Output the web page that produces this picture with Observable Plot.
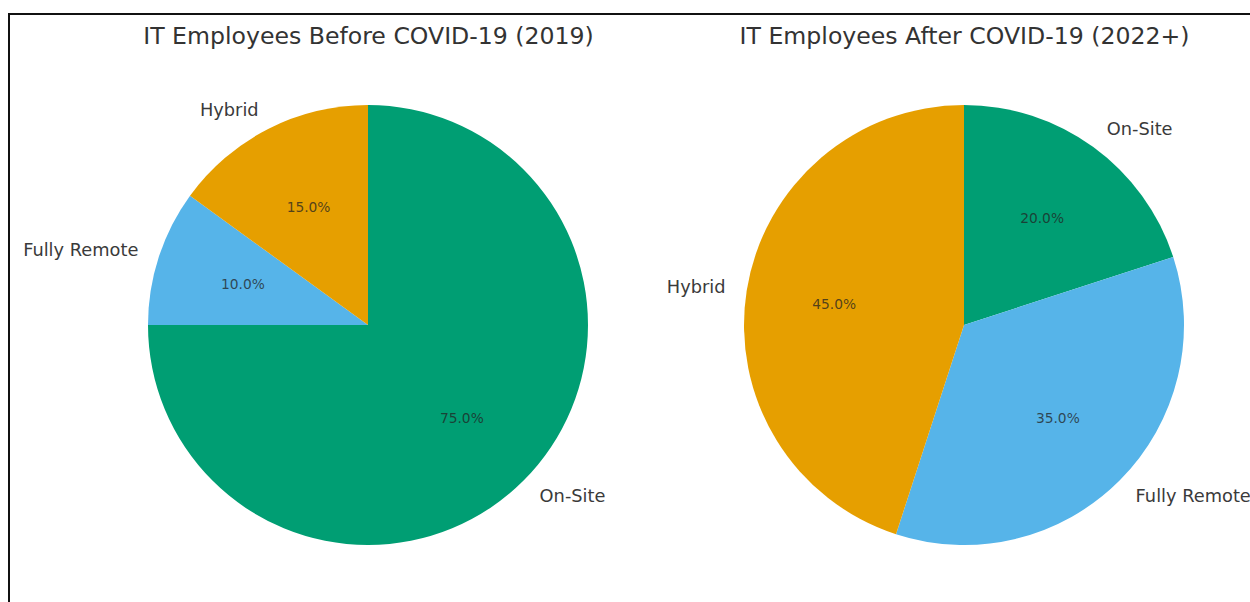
<!DOCTYPE html>
<html>
<head>
<meta charset="utf-8">
<script src="https://cdn.jsdelivr.net/npm/d3@7"></script>
<script src="https://cdn.jsdelivr.net/npm/@observablehq/plot@0.6"></script>
<style>
  html, body { margin: 0; padding: 0; background: #fff; overflow: hidden; }
  #wrap { position: relative; width: 1250px; height: 602px; overflow: hidden; }
  #frame { position: absolute; left: 8px; top: 13px; width: 1400px; height: 800px;
           border: 2px solid #111; pointer-events: none; box-sizing: border-box; }
</style>
</head>
<body>
<div id="wrap"><div id="frame"></div></div>
<script>
// ---- data ----
const categories = ["On-Site", "Fully Remote", "Hybrid"];
const before2019 = [75, 10, 15];
const after2022 = [20, 35, 45];
const titles = ["IT Employees Before COVID-19 (2019)", "IT Employees After COVID-19 (2022+)"];
const palette = ["#009E73", "#56B4E9", "#E69F00"];

// ---- layout (pixels) ----
const W = 1250, H = 602, R = 220;
const CXpx = [368, 964], CYpx = 325, TITLEpx = 36;

// pie centres in radius units
const centres = CXpx.map(c => (c - CXpx[0]) / R);
const color = d3.scaleOrdinal(categories, palette);

const series = [before2019, after2022];
const slices = [];
series.forEach((vals, k) => {
  const rows = categories.map((cat, i) => ({cat, value: vals[i]}));
  const arcs = d3.pie().sort(null).value(d => d.value)(rows);
  const total = d3.sum(vals);
  arcs.forEach(a => {
    const mid = (a.startAngle + a.endAngle) / 2;
    slices.push({
      pie: k, cx: centres[k], cat: a.data.cat, value: a.data.value,
      pct: d3.format(".1f")(a.data.value / total * 100) + "%",
      start: a.startAngle, end: a.endAngle, mid
    });
  });
});
const titleRows = titles.map((t, k) => ({t, cx: centres[k]}));

function pieMark(index, scales) {
  const g = d3.create("svg:g");
  const r = scales.x(1) - scales.x(0);
  const arc = d3.arc().innerRadius(0).outerRadius(r);
  for (const s of slices) {
    g.append("path")
      .attr("d", arc({startAngle: s.start, endAngle: s.end}))
      .attr("transform", `translate(${scales.x(s.cx)},${scales.y(0)})`)
      .attr("fill", color(s.cat));
  }
  return g.node();
}

const chart = Plot.plot({
  width: W, height: H,
  margin: 0,
  x: {domain: [(0 - CXpx[0]) / R, (W - CXpx[0]) / R], axis: null},
  y: {domain: [(CYpx - H) / R, CYpx / R], axis: null},
  style: {fontFamily: "'DejaVu Sans', sans-serif", background: "transparent"},
  marks: [
    pieMark,
    Plot.text(slices, {
      filter: d => Math.sin(d.mid) > 0,
      x: d => d.cx + 1.1 * Math.sin(d.mid), y: d => 1.1 * Math.cos(d.mid),
      text: "cat", textAnchor: "start", fontSize: 17.8, fill: "#3a3a3a"
    }),
    Plot.text(slices, {
      filter: d => Math.sin(d.mid) <= 0,
      x: d => d.cx + 1.1 * Math.sin(d.mid), y: d => 1.1 * Math.cos(d.mid),
      text: "cat", textAnchor: "end", fontSize: 17.8, fill: "#3a3a3a"
    }),
    Plot.text(slices, {
      x: d => d.cx + 0.6 * Math.sin(d.mid), y: d => 0.6 * Math.cos(d.mid),
      text: "pct", fontSize: 13.8, fill: "#222", fillOpacity: 0.75
    }),
    Plot.text(titleRows, {
      x: "cx", y: () => (CYpx - TITLEpx) / R,
      text: "t", fontSize: 23.6, fill: "#333"
    })
  ]
});
document.getElementById("wrap").prepend(chart);
</script>
</body>
</html>
